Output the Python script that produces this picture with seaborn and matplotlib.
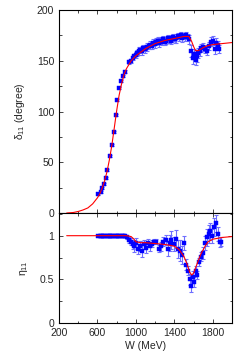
import numpy as np
import pandas as pd
import seaborn as sns
import matplotlib.pyplot as plt
from matplotlib.ticker import MultipleLocator, FixedLocator

# model curves
curve_w = [280, 350, 400, 450, 500, 550, 600, 625, 650, 675, 700, 725, 750, 775, 800, 825, 850, 875,
           900, 950, 1000, 1100, 1200, 1300, 1400, 1500, 1550, 1580, 1600, 1620, 1650, 1700, 1750,
           1800, 1900, 2000]
curve_delta = [0, 0.5, 1.5, 3, 5, 9, 15, 19, 25, 32, 41, 53, 67, 84, 101, 116, 127, 136,
               142, 150, 155, 162, 167, 170, 172, 174, 174, 169, 164, 160, 160, 163, 165,
               166, 167, 168]

eta_curve_w = [280, 600, 900, 950, 980, 1000, 1050, 1100, 1200, 1300, 1400, 1450, 1500, 1530,
               1560, 1580, 1600, 1620, 1650, 1680, 1720, 1750, 1800, 1900, 2000]
eta_curve = [1.0, 1.0, 1.0, 0.99, 0.96, 0.93, 0.92, 0.92, 0.91, 0.90, 0.88, 0.84, 0.76, 0.68,
             0.58, 0.55, 0.57, 0.63, 0.72, 0.80, 0.88, 0.93, 0.96, 0.98, 0.99]

# phase shift data
delta_w = [610, 635, 648, 672, 687, 704, 728, 746, 770, 791, 808, 826, 846, 867, 888, 930, 948, 965,
           985, 1000, 1015, 1030, 1045, 1060, 1075, 1090, 1105, 1120, 1135, 1150, 1165, 1180, 1195,
           1210, 1225, 1240, 1255, 1270, 1285, 1300, 1315, 1330, 1345, 1360, 1375, 1390, 1405, 1420,
           1435, 1450, 1465, 1480, 1495, 1510, 1525, 1540, 1555, 1575, 1590, 1605, 1620, 1635, 1650,
           1665, 1680, 1700, 1720, 1740, 1760, 1780, 1800, 1820, 1835, 1850, 1865]
delta_val = [18.7, 20.7, 24.6, 29, 34.5, 42, 56, 67, 80, 97, 111.7, 123, 130, 135, 139, 149, 149.5, 153,
             155, 156, 158, 160, 161, 160, 163, 162, 163, 164, 165, 166, 165, 168, 167,
             169, 170, 168, 170, 169, 171, 169, 170, 172, 171, 170, 172, 173, 171, 172,
             174, 173, 175, 172, 174, 173, 175, 173, 171, 160, 153, 157, 151, 155, 158,
             160, 163, 164, 162, 160, 165, 169, 170, 162, 168, 166, 162]
delta_err = [1, 1, 1, 1, 1, 1, 1, 1, 1, 1, 1, 1, 1, 1, 1.5, 2, 2, 2,
             2, 3, 3, 4, 3, 4, 3, 4, 3, 4, 3, 4, 3, 3, 4,
             3, 3, 4, 3, 3, 3, 3, 3, 3, 3, 3, 3, 3, 3, 4,
             3, 3, 3, 3, 3, 3, 3, 3, 4, 6, 6, 5, 5, 6, 5,
             5, 4, 4, 4, 4, 4, 4, 4, 5, 4, 4, 4]

# inelasticity data
eta_w = [610, 622, 634, 646, 658, 670, 682, 694, 706, 718, 730, 742, 754, 766, 778, 790, 802, 814,
         826, 838, 850, 862, 874, 886,
         905, 925, 945, 965, 985, 1005, 1025, 1045, 1065, 1085, 1105, 1125, 1145, 1165, 1185, 1210,
         1235, 1260, 1285, 1310, 1330, 1350, 1370, 1395, 1420, 1440, 1460, 1480, 1500, 1525, 1545,
         1560, 1575, 1590, 1605, 1625, 1640, 1660, 1680, 1700, 1720, 1740, 1755, 1770, 1790, 1810,
         1830, 1850, 1870, 1885]
eta_val = [1.0] * 24 + [0.98, 0.95, 0.93, 0.90, 0.88, 0.92, 0.85, 0.88, 0.83, 0.90, 0.86, 0.92, 0.88,
                        0.91, 0.93, 0.93, 0.85, 0.88, 0.93, 0.95, 0.85, 0.92, 0.95, 0.90, 0.96, 0.85,
                        0.83, 0.78, 0.92, 0.67, 0.60, 0.50, 0.42, 0.53, 0.47, 0.60, 0.55, 0.70, 0.76,
                        0.80, 0.92, 0.98, 1.02, 1.05, 1.00, 1.10, 1.14, 1.02, 0.93, 0.93]
eta_err = [0.01] * 24 + [0.02, 0.03, 0.04, 0.05, 0.07, 0.05, 0.06, 0.06, 0.07, 0.05, 0.06, 0.04, 0.05,
                         0.04, 0.03, 0.03, 0.04, 0.05, 0.05, 0.06, 0.08, 0.09, 0.10, 0.08, 0.10, 0.10,
                         0.12, 0.10, 0.08, 0.06, 0.05, 0.06, 0.07, 0.06, 0.06, 0.05, 0.05, 0.05, 0.05,
                         0.07, 0.08, 0.10, 0.10, 0.10, 0.08, 0.10, 0.10, 0.08, 0.06, 0.05]

sns.set_style("ticks")
plt.rcParams['font.family'] = ['Liberation Sans', 'DejaVu Sans']
plt.rcParams['font.size'] = 7.5
plt.rcParams['mathtext.fontset'] = 'dejavusans'

fig = plt.figure(figsize=(2.49, 3.56), dpi=100)
ax1 = fig.add_axes([0.237, 0.4017, 0.695, 0.570])
ax2 = fig.add_axes([0.237, 0.0927, 0.695, 0.309])

blue = '#0000ff'
ebcol = '#6f6fff'

d1 = pd.DataFrame({'W': delta_w, 'v': delta_val})
ax1.errorbar(delta_w, delta_val, yerr=delta_err, fmt='none', ecolor=ebcol, elinewidth=0.8,
             capsize=1.5, capthick=0.8, zorder=2)
sns.scatterplot(data=d1, x='W', y='v', ax=ax1, marker='s', s=5, color=blue, edgecolor=blue,
                linewidth=0.3, zorder=3)
sns.lineplot(x=curve_w, y=curve_delta, ax=ax1, color='red', lw=0.8, zorder=4)

d2 = pd.DataFrame({'W': eta_w, 'v': eta_val})
ax2.errorbar(eta_w, eta_val, yerr=eta_err, fmt='none', ecolor=ebcol, elinewidth=0.8,
             capsize=1.5, capthick=0.8, zorder=2)
sns.scatterplot(data=d2, x='W', y='v', ax=ax2, marker='s', s=5, color=blue, edgecolor=blue,
                linewidth=0.3, zorder=3)
sns.lineplot(x=eta_curve_w, y=eta_curve, ax=ax2, color='red', lw=0.8, zorder=4)

for ax in (ax1, ax2):
    ax.set_xlim(200, 2000)
    ax.xaxis.set_major_locator(FixedLocator([200, 600, 1000, 1400, 1800]))
    ax.xaxis.set_minor_locator(MultipleLocator(200))
    ax.tick_params(which='both', direction='in', top=True, right=True, labelsize=7.5, width=0.6)
    ax.tick_params(which='major', length=3)
    ax.tick_params(which='minor', length=1.8)
    for s in ax.spines.values():
        s.set_linewidth(0.8)
        s.set_color('black')
    ax.set_xlabel('')
    ax.set_ylabel('')

ax1.set_ylim(0, 200)
ax1.yaxis.set_major_locator(MultipleLocator(50))
ax1.yaxis.set_minor_locator(MultipleLocator(25))
ax1.tick_params(labelbottom=False)
ax1.set_ylabel(r'$\mathregular{\delta_{11}}$ (degree)', fontsize=7.5, labelpad=7)

ax2.set_ylim(0, 1.26)
ax2.yaxis.set_major_locator(FixedLocator([0, 0.5, 1]))
ax2.yaxis.set_minor_locator(MultipleLocator(0.25))
ax2.set_yticklabels(['0', '0.5', '1'])
ax2.set_ylabel(r'$\mathregular{\eta_{11}}$', fontsize=7.5, labelpad=7)
ax2.set_xlabel('W (MeV)', fontsize=7.5, labelpad=2)

fig.savefig('out.png', dpi=100)
